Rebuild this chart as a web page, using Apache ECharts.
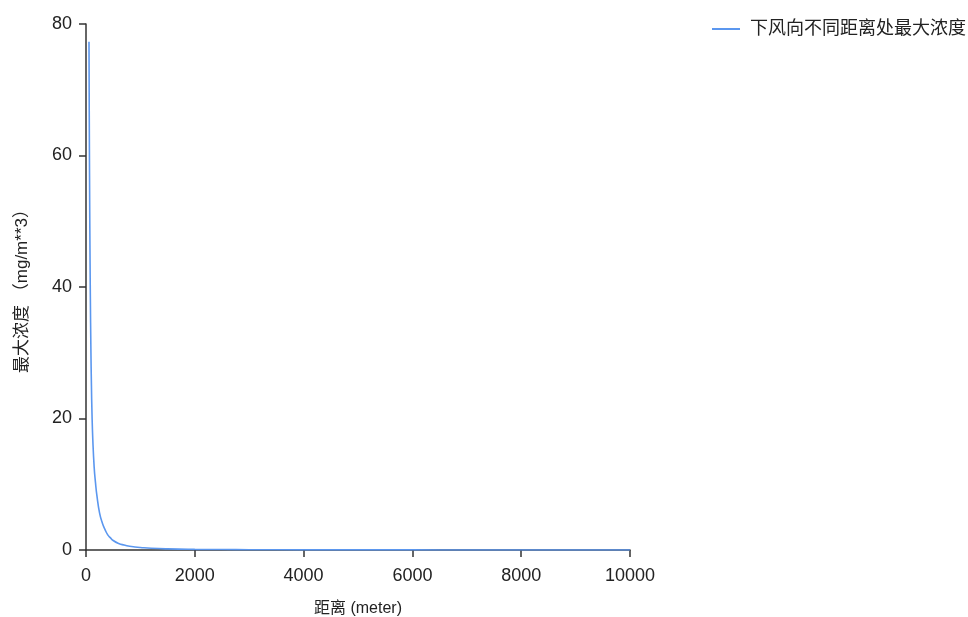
<!DOCTYPE html>
<html>
<head>
<meta charset="utf-8">
<script src="https://cdn.jsdelivr.net/npm/echarts@6/dist/echarts.min.js"></script>
<style>
  html, body { margin: 0; padding: 0; background: #fff; }
  #chart { width: 968px; height: 617px; }
</style>
</head>
<body>
<div id="chart"></div>
<script>
// Downwind distance (m) and maximum ground concentration (mg/m**3)
const distances = [55, 60, 65, 70, 75, 80, 90, 100, 110, 125, 150, 175, 200, 250, 300, 350, 400, 450, 500,
  600, 700, 800, 900, 1000, 1200, 1500, 2000, 2500, 3000, 4000, 5000, 6000, 7000, 8000, 9000, 10000];
const concentrations = [77.3, 66, 57, 49.5, 43.5, 38.5, 30.5, 25, 20.8, 16.8, 12.6, 10.2, 8.3, 5.6, 4.1, 3.1, 2.3, 1.85, 1.45,
  1.0, 0.75, 0.57, 0.46, 0.38, 0.26, 0.17, 0.1, 0.065, 0.045, 0.026, 0.017, 0.012, 0.009, 0.007, 0.0055, 0.0045];
const seriesName = '下风向不同距离处最大浓度';
const xAxisTitle = '距离 (meter)';
const yAxisTitle = '最大浓度 （mg/m**3）';

const points = distances.map((d, i) => [d, concentrations[i]]);

const fontFamily = 'Arial, "Liberation Sans", "Noto Sans CJK SC", sans-serif';
const axisColor = '#333';

const chart = echarts.init(document.getElementById('chart'), null, { renderer: 'canvas' });
chart.setOption({
  animation: false,
  textStyle: { fontFamily },
  grid: { left: 86, right: 338, top: 24, bottom: 67, outerBoundsMode: 'none', containLabel: false },
  legend: {
    left: 707, top: 15,
    itemWidth: 28, itemHeight: 14,
    icon: 'path://M0,6 L28,6 L28,8 L0,8 Z',
    textStyle: { fontSize: 18, color: '#222', fontFamily, padding: [0, 0, 0, 5] },
    data: [seriesName]
  },
  xAxis: {
    type: 'value', min: 0, max: 10000, interval: 2000,
    name: xAxisTitle, nameLocation: 'middle', nameGap: 51,
    nameTextStyle: { fontSize: 16, color: '#222' },
    axisLine: { show: true, lineStyle: { color: axisColor, width: 1.5 } },
    axisTick: { show: true, length: 7, lineStyle: { color: axisColor, width: 1.5 } },
    axisLabel: { fontSize: 18, color: '#222', margin: 17, formatter: v => String(v) },
    splitLine: { show: false }
  },
  yAxis: {
    type: 'value', min: 0, max: 80, interval: 20,
    name: yAxisTitle, nameLocation: 'middle', nameGap: 55, nameRotate: 90,
    nameTextStyle: { fontSize: 17, color: '#222' },
    axisLine: { show: true, lineStyle: { color: axisColor, width: 1.5 } },
    axisTick: { show: true, length: 7, lineStyle: { color: axisColor, width: 1.5 } },
    axisLabel: { fontSize: 18, color: '#222', margin: 14 },
    splitLine: { show: false }
  },
  series: [{
    name: seriesName,
    type: 'line',
    data: points,
    smooth: true,
    showSymbol: false,
    lineStyle: { color: '#5b97ef', width: 1.6 },
    itemStyle: { color: '#5b97ef' }
  }]
});
</script>
</body>
</html>
